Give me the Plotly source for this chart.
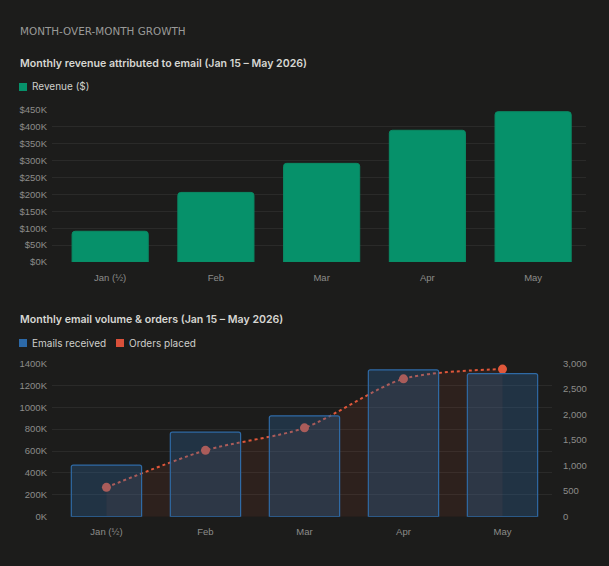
import plotly.graph_objects as go

# ---- data ----
months = ["Jan (½)", "Feb", "Mar", "Apr", "May"]
revenue = [91000, 206000, 292000, 390000, 445000]
emails_received = [472000, 772000, 922000, 1342000, 1308000]
orders_placed = [575, 1300, 1740, 2700, 2890]

rev_ticks = [0, 50000, 100000, 150000, 200000, 250000, 300000, 350000, 400000, 450000]
rev_ticktext = [f"${v // 1000}K" for v in rev_ticks]
email_ticks = [0, 200000, 400000, 600000, 800000, 1000000, 1200000, 1400000]
email_ticktext = [f"{v // 1000}K" for v in email_ticks]
order_ticks = [0, 500, 1000, 1500, 2000, 2500, 3000]

W, H = 609, 566
BG = "#1c1c1b"
GRID = "#2a2a29"
TICK = "#8c8c8a"
FONT = "Inter"

def px_x(x):
    return x / W

def px_y(y):
    return 1 - y / H

fig = go.Figure()

# chart 1: revenue bars
fig.add_trace(go.Bar(
    x=months, y=revenue, xaxis="x", yaxis="y",
    marker=dict(color="#06916a", line=dict(color="#0a8a64", width=1), cornerradius=3),
    width=0.72, showlegend=False, hoverinfo="skip",
))

# chart 2: orders line (main axis, drawn underneath)
fig.add_trace(go.Scatter(
    x=months, y=orders_placed, xaxis="x2", yaxis="y2",
    mode="lines+markers",
    line=dict(color="#e0573a", width=2, dash="3px,3px", shape="spline", smoothing=0.8),
    marker=dict(color="#e0573a", size=9),
    fill="tozeroy", fillcolor="rgba(224,85,58,0.09)",
    showlegend=False, hoverinfo="skip",
))

# chart 2: email bars (overlay axis, drawn on top)
fig.add_trace(go.Bar(
    x=months, y=emails_received, xaxis="x2", yaxis="y3",
    marker=dict(color="rgba(47,106,165,0.30)", line=dict(color="#2f6aa5", width=1.2), cornerradius=2),
    width=0.71, showlegend=False, hoverinfo="skip",
))

tickfont = dict(family="Liberation Sans", size=9.5, color=TICK)
common = dict(automargin=False, zeroline=False, showline=False, ticks="", tickfont=tickfont)

fig.update_layout(
    template="none",
    width=W, height=H,
    margin=dict(l=0, r=0, t=0, b=0, pad=0),
    paper_bgcolor=BG, plot_bgcolor=BG,
    font=dict(family=FONT, color=TICK),
    showlegend=False,
    xaxis=dict(domain=[px_x(52), px_x(586)], anchor="y", range=[-0.55, 4.5],
               showgrid=False, ticklabelstandoff=8, **common),
    yaxis=dict(domain=[px_y(262), px_y(110)], anchor="x", range=[0, 450000],
               tickvals=rev_ticks, ticktext=rev_ticktext, showgrid=True, gridcolor=GRID,
               gridwidth=1, ticklabelstandoff=4, **common),
    xaxis2=dict(domain=[px_x(52), px_x(552)], anchor="y2", range=[-0.55, 4.5],
                showgrid=False, ticklabelstandoff=8, **common),
    yaxis2=dict(domain=[px_y(516.7), px_y(363.5)], anchor="x2", side="right",
                range=[0, 3000], tickvals=order_ticks, tickformat=",",
                showgrid=False, ticklabelstandoff=10, **common),
    yaxis3=dict(overlaying="y2", anchor="x2", side="left", range=[0, 1400000],
                tickvals=email_ticks, ticktext=email_ticktext,
                showgrid=True, gridcolor=GRID, gridwidth=1, ticklabelstandoff=4, **common),
)

annotations = [
    dict(text="MONTH-OVER-MONTH GROWTH", x=px_x(18), y=px_y(31),
         font=dict(family="DejaVu Sans", size=10.4, color="#9a9a98")),
    dict(text="Monthly revenue attributed to email (Jan 15 – May 2026)", x=px_x(18), y=px_y(63),
         font=dict(family=FONT, size=10.6, color="#d6d6d2", weight=600)),
    dict(text="Revenue ($)", x=px_x(29.5), y=px_y(86.5),
         font=dict(family=FONT, size=10, color="#cfcfcb")),
    dict(text="Monthly email volume & orders (Jan 15 – May 2026)", x=px_x(18), y=px_y(319),
         font=dict(family=FONT, size=10.6, color="#d6d6d2", weight=600)),
    dict(text="Emails received", x=px_x(29.5), y=px_y(342.5),
         font=dict(family=FONT, size=10, color="#cfcfcb")),
    dict(text="Orders placed", x=px_x(127), y=px_y(342.5),
         font=dict(family=FONT, size=10, color="#cfcfcb")),
]
for a in annotations:
    a.update(xref="paper", yref="paper", xanchor="left", yanchor="middle", showarrow=False)
fig.update_layout(annotations=annotations)

swatches = [(19, 83, "#06916a"), (19, 339, "#2c69a8"), (116, 339, "#d9503a")]
shapes = []
for sx, sy, col in swatches:
    shapes.append(dict(type="rect", xref="paper", yref="paper",
                       x0=px_x(sx), x1=px_x(sx + 8), y0=px_y(sy + 8), y1=px_y(sy),
                       fillcolor=col, line=dict(width=0)))
fig.update_layout(shapes=shapes)

fig.write_html("out.html")
